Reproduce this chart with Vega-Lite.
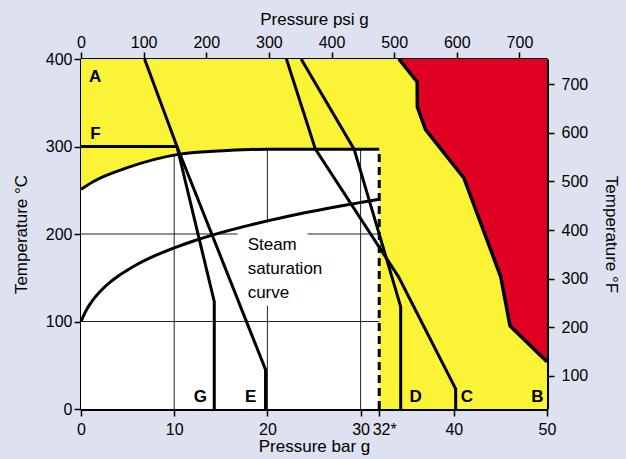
{
  "$schema": "https://vega.github.io/schema/vega-lite/v6.json",
  "autosize": {"type": "none"},
  "padding": {"left": 81, "top": 59, "right": 79, "bottom": 50},
  "width": 466,
  "height": 350,
  "background": "#dde1f0",
  "config": {
    "view": {"stroke": null},
    "axis": {
      "domainColor": "black", "domainWidth": 3, "tickColor": "black", "tickWidth": 1.5, "tickSize": 7,
      "labelFont": "Liberation Sans", "labelFontSize": 16, "labelColor": "black",
      "titleFont": "Liberation Sans", "titleFontSize": 17, "titleFontWeight": "normal", "titleColor": "black",
      "grid": false, "zindex": 1
    }
  },
  "datasets": {
    "frame": [{"x": 0, "x2": 50, "y": 0, "y2": 400}],
    "red": [
      {"o": 1, "bar": 34.1, "t": 400}, {"o": 2, "bar": 36.07, "t": 373.9}, {"o": 3, "bar": 36.09, "t": 345.3},
      {"o": 4, "bar": 36.97, "t": 319.3}, {"o": 5, "bar": 41.08, "t": 264}, {"o": 6, "bar": 45.03, "t": 151.4},
      {"o": 7, "bar": 46.03, "t": 95}, {"o": 8, "bar": 50, "t": 54}
    ],
    "white": [
      {"bar": 0, "t": 251}, {"bar": 1.34, "t": 260}, {"bar": 4.9, "t": 275.5}, {"bar": 10.3, "t": 290.7},
      {"bar": 15.7, "t": 295.3}, {"bar": 20.1, "t": 297}, {"bar": 32, "t": 297}
    ],
    "vgrid": [{"bar": 10, "t": 0, "t2": 290.7}, {"bar": 20, "t": 0, "t2": 297}, {"bar": 30, "t": 0, "t2": 297}],
    "hgrid": [{"bar": 0, "bar2": 32, "t": 100}, {"bar": 0, "bar2": 32, "t": 200}],
    "labelbox": [{"bar": 16.8, "bar2": 24.3, "t": 118, "t2": 213}],
    "sat": [
      {"bar": 0, "t": 100}, {"bar": 0.2, "t": 104.8}, {"bar": 0.5, "t": 111.6}, {"bar": 1, "t": 120.4},
      {"bar": 1.5, "t": 127.6}, {"bar": 2, "t": 133.7}, {"bar": 3, "t": 143.8}, {"bar": 4, "t": 152},
      {"bar": 5, "t": 158.9}, {"bar": 6, "t": 165.1}, {"bar": 8, "t": 175.5}, {"bar": 10, "t": 184.1},
      {"bar": 12, "t": 191.7}, {"bar": 14, "t": 198.4}, {"bar": 16, "t": 204.4}, {"bar": 18, "t": 209.9},
      {"bar": 20, "t": 215}, {"bar": 22, "t": 219.7}, {"bar": 24, "t": 224.2}, {"bar": 26, "t": 228.3},
      {"bar": 28, "t": 232.3}, {"bar": 30, "t": 236}, {"bar": 32, "t": 239.6}
    ],
    "limits": [
      {"line": "AE", "o": 1, "bar": 6.82, "t": 400}, {"line": "AE", "o": 2, "bar": 10.3, "t": 300},
      {"line": "AE", "o": 3, "bar": 19.8, "t": 45}, {"line": "AE", "o": 4, "bar": 19.8, "t": 0},
      {"line": "F", "o": 1, "bar": 0, "t": 300}, {"line": "F", "o": 2, "bar": 10.3, "t": 300},
      {"line": "G", "o": 1, "bar": 10.3, "t": 300}, {"line": "G", "o": 2, "bar": 14.3, "t": 122.6},
      {"line": "G", "o": 3, "bar": 14.3, "t": 0},
      {"line": "C", "o": 1, "bar": 22.04, "t": 400}, {"line": "C", "o": 2, "bar": 25.15, "t": 297},
      {"line": "C", "o": 3, "bar": 34.07, "t": 151}, {"line": "C", "o": 4, "bar": 40.2, "t": 23},
      {"line": "C", "o": 5, "bar": 40.2, "t": 0},
      {"line": "D", "o": 1, "bar": 23.62, "t": 400}, {"line": "D", "o": 2, "bar": 29.3, "t": 297},
      {"line": "D", "o": 3, "bar": 34.3, "t": 117}, {"line": "D", "o": 4, "bar": 34.3, "t": 0}
    ],
    "dash32": [{"bar": 32, "t": 0, "t2": 297}],
    "letters": [
      {"label": "A", "bar": 1.53, "t": 380}, {"label": "F", "bar": 1.56, "t": 314.7},
      {"label": "G", "bar": 12.8, "t": 14}, {"label": "E", "bar": 18.2, "t": 14},
      {"label": "D", "bar": 35.9, "t": 14}, {"label": "C", "bar": 41.4, "t": 14},
      {"label": "B", "bar": 48.96, "t": 14}
    ],
    "steamtext": [
      {"label": "Steam", "bar": 17.88, "t": 182.1}, {"label": "saturation", "bar": 17.88, "t": 154.3},
      {"label": "curve", "bar": 17.88, "t": 126.9}
    ],
    "imperial": [{"psi": 0, "f": 32}, {"psi": 744, "f": 752}]
  },
  "layer": [
    {
      "encoding": {
        "x": {"type": "quantitative", "scale": {"domain": [0, 50], "nice": false, "zero": false}},
        "y": {"type": "quantitative", "scale": {"domain": [0, 400], "nice": false, "zero": false}}
      },
      "layer": [
        {
          "data": {"name": "frame"},
          "mark": {"type": "rect", "fill": "#faf336", "stroke": null},
          "encoding": {
            "x": {"field": "x", "type": "quantitative", "title": "Pressure bar g",
              "axis": {"orient": "bottom", "values": [0, 10, 20, 30, 32, 40, 50], "labelFlush": false, "labelOverlap": false,
                "labelExpr": "datum.value == 32 ? '32*' : datum.label",
                "labelOffset": {"condition": {"test": "datum.value == 32", "value": 5}, "value": 0},
                "labelPadding": 5, "titlePadding": 1}},
            "x2": {"field": "x2"},
            "y": {"field": "y", "type": "quantitative", "title": "Temperature °C",
              "axis": {"orient": "left", "values": [0, 100, 200, 300, 400], "labelPadding": 2, "titlePadding": 15}},
            "y2": {"field": "y2"}
          }
        },
        {
          "data": {"name": "red"},
          "mark": {"type": "area", "color": "#e00024", "fill": "#e00024", "opacity": 1},
          "encoding": {
            "x": {"field": "bar", "type": "quantitative"},
            "y": {"field": "t", "type": "quantitative", "stack": null},
            "y2": {"datum": 400}
          }
        },
        {
          "data": {"name": "red"},
          "mark": {"type": "line", "color": "black", "strokeWidth": 3.5, "strokeJoin": "miter"},
          "encoding": {
            "x": {"field": "bar", "type": "quantitative"},
            "y": {"field": "t", "type": "quantitative"},
            "order": {"field": "o"}
          }
        },
        {
          "data": {"name": "white"},
          "mark": {"type": "area", "fill": "white", "interpolate": "monotone"},
          "encoding": {
            "x": {"field": "bar", "type": "quantitative"},
            "y": {"field": "t", "type": "quantitative"},
            "y2": {"datum": 0}
          }
        },
        {
          "data": {"name": "vgrid"},
          "mark": {"type": "rule", "color": "#222", "strokeWidth": 1},
          "encoding": {
            "x": {"field": "bar", "type": "quantitative"},
            "y": {"field": "t", "type": "quantitative"},
            "y2": {"field": "t2"}
          }
        },
        {
          "data": {"name": "hgrid"},
          "mark": {"type": "rule", "color": "#222", "strokeWidth": 1},
          "encoding": {
            "x": {"field": "bar", "type": "quantitative"},
            "x2": {"field": "bar2"},
            "y": {"field": "t", "type": "quantitative"}
          }
        },
        {
          "data": {"name": "labelbox"},
          "mark": {"type": "rect", "fill": "white"},
          "encoding": {
            "x": {"field": "bar", "type": "quantitative"},
            "x2": {"field": "bar2"},
            "y": {"field": "t", "type": "quantitative"},
            "y2": {"field": "t2"}
          }
        },
        {
          "data": {"name": "white"},
          "mark": {"type": "line", "color": "black", "strokeWidth": 3, "interpolate": "monotone"},
          "encoding": {
            "x": {"field": "bar", "type": "quantitative"},
            "y": {"field": "t", "type": "quantitative"}
          }
        },
        {
          "data": {"name": "sat"},
          "mark": {"type": "line", "color": "black", "strokeWidth": 3, "interpolate": "monotone"},
          "encoding": {
            "x": {"field": "bar", "type": "quantitative"},
            "y": {"field": "t", "type": "quantitative"}
          }
        },
        {
          "data": {"name": "limits"},
          "mark": {"type": "line", "color": "black", "strokeWidth": 3, "strokeJoin": "miter"},
          "encoding": {
            "x": {"field": "bar", "type": "quantitative"},
            "y": {"field": "t", "type": "quantitative"},
            "detail": {"field": "line"},
            "order": {"field": "o"}
          }
        },
        {
          "data": {"name": "dash32"},
          "mark": {"type": "rule", "color": "black", "strokeWidth": 3, "strokeDash": [8, 5]},
          "encoding": {
            "x": {"field": "bar", "type": "quantitative"},
            "y": {"field": "t", "type": "quantitative"},
            "y2": {"field": "t2"}
          }
        },
        {
          "data": {"name": "letters"},
          "mark": {"type": "text", "font": "Liberation Sans", "fontSize": 17, "fontWeight": "bold", "color": "black", "align": "center", "baseline": "middle"},
          "encoding": {
            "x": {"field": "bar", "type": "quantitative"},
            "y": {"field": "t", "type": "quantitative"},
            "text": {"field": "label"}
          }
        },
        {
          "data": {"name": "steamtext"},
          "mark": {"type": "text", "font": "Liberation Sans", "fontSize": 17, "color": "black", "align": "left", "baseline": "alphabetic"},
          "encoding": {
            "x": {"field": "bar", "type": "quantitative"},
            "y": {"field": "t", "type": "quantitative"},
            "text": {"field": "label"}
          }
        }
      ]
    },
    {
      "data": {"name": "imperial"},
      "mark": {"type": "point", "opacity": 0},
      "encoding": {
        "x": {"field": "psi", "type": "quantitative", "title": "Pressure psi g",
          "scale": {"domain": [0, 744], "nice": false, "zero": false},
          "axis": {"orient": "top", "values": [0, 100, 200, 300, 400, 500, 600, 700], "labelFlush": false, "labelPadding": 2, "titlePadding": 6}},
        "y": {"field": "f", "type": "quantitative", "title": "Temperature °F",
          "scale": {"domain": [32, 752], "nice": false, "zero": false},
          "axis": {"orient": "right", "values": [100, 200, 300, 400, 500, 600, 700], "labelPadding": 7, "titlePadding": 14}}
      }
    }
  ],
  "resolve": {"scale": {"x": "independent", "y": "independent"}}
}
